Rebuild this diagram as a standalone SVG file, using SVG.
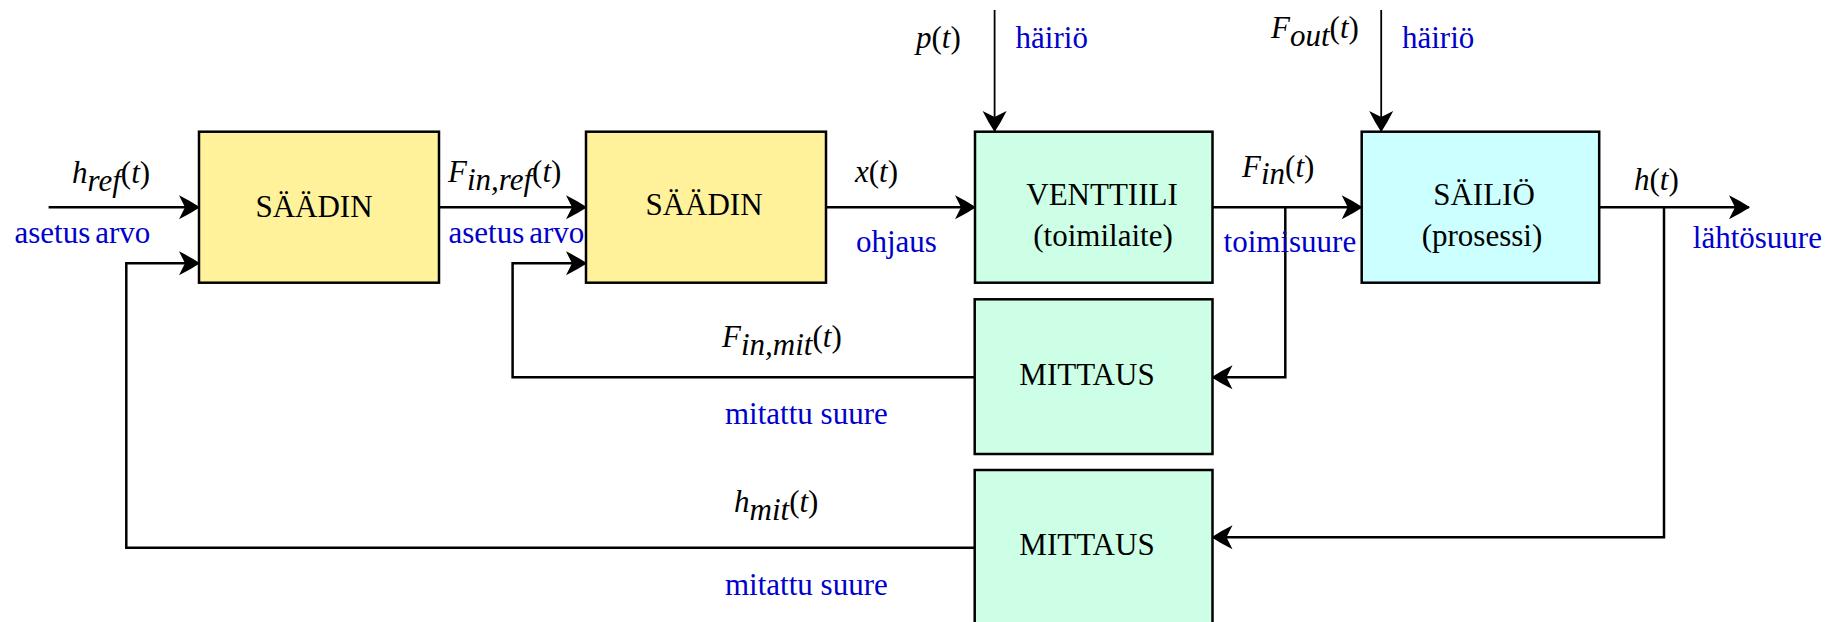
<svg xmlns="http://www.w3.org/2000/svg" width="1837" height="622" viewBox="0 0 1837 622">
<style>
.box{stroke:#000;stroke-width:2.5}
.y{fill:#FFF29B}
.g{fill:#CCFFE5}
.c{fill:#CCFFFF}
.t{font-family:"Liberation Serif","Times New Roman",serif;font-size:31px;fill:#000}
.b{font-family:"Liberation Serif","Times New Roman",serif;font-size:31px;fill:#0000CC}
.m{font-family:"Liberation Serif","Times New Roman",serif;font-size:31px;font-style:italic;fill:#000}
.up{font-style:normal}
.ln{fill:none;stroke:#000;stroke-width:2.5;marker-end:url(#ah)}
.thin{stroke-width:1.8}
</style>
<defs>
<marker id="ah" markerUnits="userSpaceOnUse" viewBox="-23 -13 25 26" markerWidth="25" markerHeight="26" refX="0" refY="0" orient="auto">
<path d="M1,0 Q-8,-6 -20,-12 L-14,0 L-20,12 Q-8,6 1,0 Z" fill="#000"/>
</marker>
</defs>
<g id="connectors">
<path class="ln" d="M48.6 207.3 H199"/>
<path class="ln" d="M439 207.3 H586"/>
<path class="ln" d="M826 207.3 H975"/>
<path class="ln" d="M1212.5 207.3 H1361.7"/>
<path class="ln" d="M1599 207.3 H1749"/>
<path class="ln thin" d="M994.6 10 V131"/>
<path class="ln thin" d="M1381.2 10 V131"/>
<path class="ln" d="M1285.3 207.3 V377.3 H1212.5"/>
<path class="ln" d="M1664 207.3 V537.3 H1212.5"/>
<path class="ln" d="M974.7 377.3 H512.6 V263.3 H586"/>
<path class="ln" d="M974.7 547.7 H126.3 V263.3 H199"/>
</g>
<g id="saadin1">
<rect class="box y" x="199" y="131.7" width="240" height="151"/>
<text class="t" x="314" y="216.7" text-anchor="middle">SÄÄDIN</text>
</g>
<g id="saadin2">
<rect class="box y" x="586" y="131.7" width="240" height="151"/>
<text class="t" x="704" y="215" text-anchor="middle">SÄÄDIN</text>
</g>
<g id="venttiili">
<rect class="box g" x="975" y="131.7" width="237.5" height="151"/>
<text class="t" x="1102" y="205" text-anchor="middle">VENTTIILI</text>
<text class="t" x="1103" y="246" text-anchor="middle">(toimilaite)</text>
</g>
<g id="sailio">
<rect class="box c" x="1361.7" y="131.7" width="237.5" height="151"/>
<text class="t" x="1484" y="205" text-anchor="middle">SÄILIÖ</text>
<text class="t" x="1482" y="246" text-anchor="middle">(prosessi)</text>
</g>
<g id="mittaus1">
<rect class="box g" x="974.7" y="299.3" width="237.8" height="154.7"/>
<text class="t" x="1087" y="385" text-anchor="middle">MITTAUS</text>
</g>
<g id="mittaus2">
<rect class="box g" x="974.7" y="470" width="237.8" height="170"/>
<text class="t" x="1087" y="555" text-anchor="middle">MITTAUS</text>
</g>
<g id="labels">
<text class="m" x="72" y="182.5">h<tspan dy="8">ref</tspan><tspan dy="-8" class="up">(</tspan>t<tspan class="up">)</tspan></text>
<text class="m" x="448" y="181.7">F<tspan dy="8.5">in,ref</tspan><tspan dy="-8.5" class="up">(</tspan>t<tspan class="up">)</tspan></text>
<text class="m" x="855" y="182">x<tspan class="up">(</tspan>t<tspan class="up">)</tspan></text>
<text class="m" x="916" y="48.3">p<tspan class="up">(</tspan>t<tspan class="up">)</tspan></text>
<text class="m" x="1271" y="38.3">F<tspan dy="7.5">out</tspan><tspan dy="-7.5" class="up">(</tspan>t<tspan class="up">)</tspan></text>
<text class="m" x="1242" y="176.7">F<tspan dy="7">in</tspan><tspan dy="-7" class="up">(</tspan>t<tspan class="up">)</tspan></text>
<text class="m" x="1634" y="190">h<tspan class="up">(</tspan>t<tspan class="up">)</tspan></text>
<text class="m" x="722" y="346.7">F<tspan dy="8.5">in,mit</tspan><tspan dy="-8.5" class="up">(</tspan>t<tspan class="up">)</tspan></text>
<text class="m" x="734" y="511.7">h<tspan dy="8.5">mit</tspan><tspan dy="-8.5" class="up">(</tspan>t<tspan class="up">)</tspan></text>
<text class="b" x="14.5" y="242.7">asetus<tspan dx="5">arvo</tspan></text>
<text class="b" x="448.5" y="242.7">asetus<tspan dx="5">arvo</tspan></text>
<text class="b" x="856" y="251.7">ohjaus</text>
<text class="b" x="1015.6" y="48.3">häiriö</text>
<text class="b" x="1402" y="48.3">häiriö</text>
<text class="b" x="1223.6" y="252.3">toimisuure</text>
<text class="b" x="1692.8" y="248.3">lähtösuure</text>
<text class="b" x="725" y="424">mitattu suure</text>
<text class="b" x="725" y="595">mitattu suure</text>
</g>
</svg>
